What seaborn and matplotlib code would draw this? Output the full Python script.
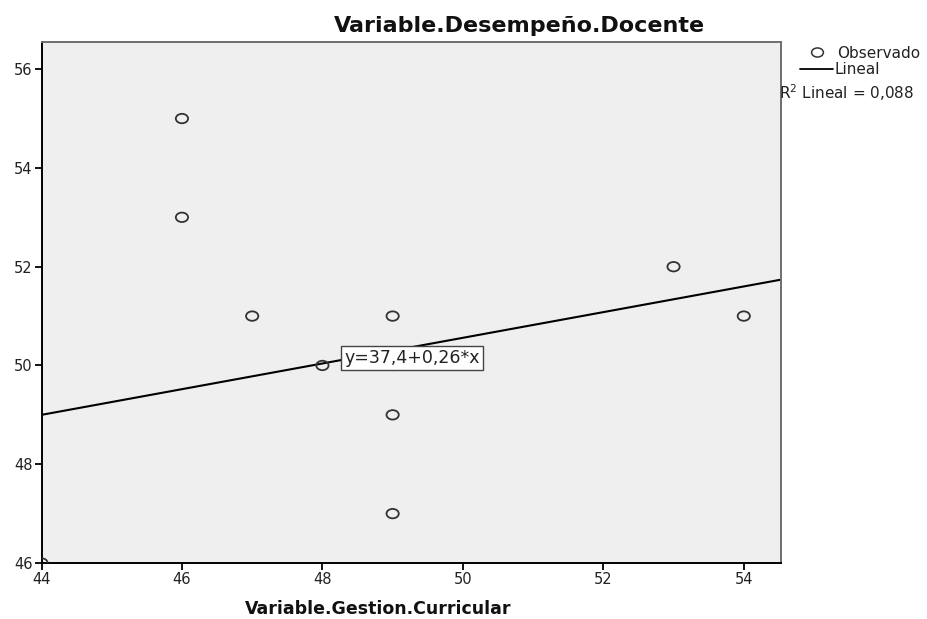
import matplotlib
matplotlib.use("Agg")
import matplotlib.pyplot as plt
from matplotlib.lines import Line2D
from matplotlib.path import Path
import seaborn as sns
import numpy as np
import pandas as pd

# Data
gestion = [44, 46, 46, 47, 48, 49, 49, 49, 49, 53, 54]
desempeno = [46, 55, 53, 51, 50, 51, 50, 49, 47, 52, 51]
fit_intercept = 37.56
fit_slope = 0.26
x_ticks = [44, 46, 48, 50, 52, 54]
y_ticks = [46, 48, 50, 52, 54, 56]
title = "Variable.Desempeño.Docente"
xlabel = "Variable.Gestion.Curricular"
equation = "y=37,4+0,26*x"
r2_text = "R$^2$ Lineal = 0,088"

df = pd.DataFrame({"x": gestion, "y": desempeno})

sns.set_style("white")
plt.rcParams["font.family"] = ["DejaVu Sans"]
plt.rcParams["mathtext.fontset"] = "dejavusans"

# slightly wide open-circle marker (reference glyphs are horizontally stretched)
uc = Path.unit_circle()
oval = Path(uc.vertices * np.array([1.3, 1.0]), uc.codes)

fig = plt.figure(figsize=(9.28, 6.19), dpi=100)
ax = fig.add_axes([41.5 / 928, 1 - 563 / 619, (781 - 41.5) / 928, (563 - 42) / 619])
ax.set_facecolor("#EFEFEF")

xmin, xmax = 44, 54.53
ymin, ymax = 46, 56.55

xs = np.array([xmin, xmax])
line_df = pd.DataFrame({"x": xs, "y": fit_intercept + fit_slope * xs})
sns.lineplot(data=line_df, x="x", y="y", ax=ax, color="black", linewidth=1.5, zorder=2)

sns.scatterplot(data=df, x="x", y="y", ax=ax, marker=oval, s=78,
                facecolor="none", edgecolor="#333333", linewidth=1.3, zorder=3)

ax.set_xlim(xmin, xmax)
ax.set_ylim(ymin, ymax)
ax.set_xticks(x_ticks)
ax.set_yticks(y_ticks)
ax.tick_params(axis="both", direction="out", length=5, width=1.3, colors="black",
               labelsize=10.5, bottom=True, left=True, pad=1.5)
for lab in ax.get_xticklabels() + ax.get_yticklabels():
    lab.set_color("#222222")
ax.set_xlabel("")
ax.set_ylabel("")
for s in ["left", "bottom"]:
    ax.spines[s].set_color("black")
    ax.spines[s].set_linewidth(1.4)
for s in ["top", "right"]:
    ax.spines[s].set_color("#6E6E6E")
    ax.spines[s].set_linewidth(1.4)

ax.text(48.31, 50.16, equation, fontsize=12.5, va="center", ha="left", zorder=5, color="#222222",
        bbox=dict(boxstyle="square,pad=0.17", facecolor="white", edgecolor="#444444", linewidth=1))

fig.text(519.5 / 928, 1 - 26 / 619, title, ha="center", va="center", fontsize=16,
         fontweight="bold", color="#111111")
fig.text(378 / 928, 1 - 609 / 619, xlabel, ha="center", va="center", fontsize=12.5,
         fontweight="bold", color="#111111")

# legend
fig.add_artist(Line2D([817 / 928], [1 - 52 / 619], marker=oval, markersize=8.5, markerfacecolor="none",
                      markeredgecolor="#333333", markeredgewidth=1.1, linestyle="none",
                      transform=fig.transFigure))
fig.text(837 / 928, 1 - 54 / 619, "Observado", fontsize=11, va="center", ha="left", color="#222222")
fig.add_artist(Line2D([800 / 928, 833 / 928], [1 - 69 / 619, 1 - 69 / 619], color="black",
                      linewidth=1.3, transform=fig.transFigure))
fig.text(835 / 928, 1 - 70 / 619, "Lineal", fontsize=11, va="center", ha="left", color="#222222")
fig.text(779 / 928, 1 - 93 / 619, r2_text, fontsize=11, va="center", ha="left", color="#222222")

fig.savefig("out.png", dpi=100, facecolor="white")
